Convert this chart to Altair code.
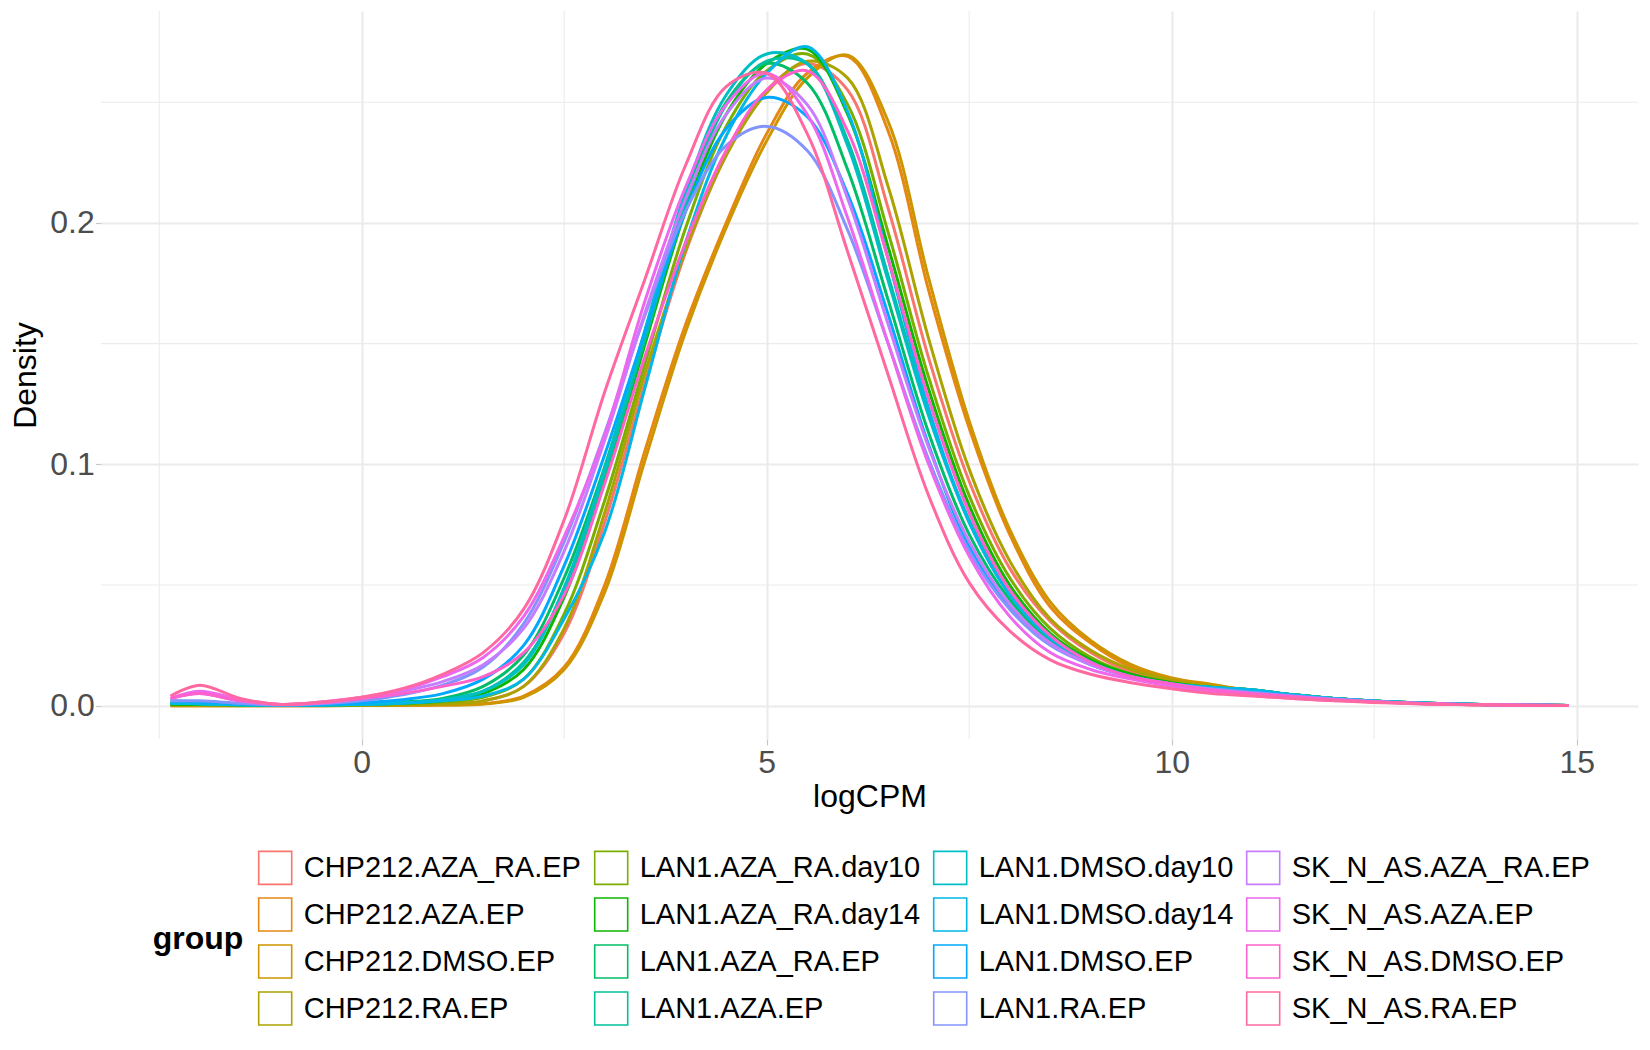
import altair as alt
import pandas as pd

FONT = "Liberation Sans"

# evaluation grid of the density curves (logCPM)
x_grid = [-2.36, -2.0, -1.5, -1.0, -0.5, 0.0, 0.5, 1.0, 1.5, 2.0, 2.5, 3.0, 3.5, 4.0, 4.5,
          5.0, 5.5, 6.0, 6.5, 7.0, 7.5, 8.0, 8.5, 9.0, 9.5, 10.0, 10.5, 11.0, 11.5, 12.0,
          13.0, 14.0, 14.9]

groups = ["CHP212.AZA_RA.EP", "CHP212.AZA.EP", "CHP212.DMSO.EP", "CHP212.RA.EP",
          "LAN1.AZA_RA.day10", "LAN1.AZA_RA.day14", "LAN1.AZA_RA.EP", "LAN1.AZA.EP",
          "LAN1.DMSO.day10", "LAN1.DMSO.day14", "LAN1.DMSO.EP", "LAN1.RA.EP",
          "SK_N_AS.AZA_RA.EP", "SK_N_AS.AZA.EP", "SK_N_AS.DMSO.EP", "SK_N_AS.RA.EP"]

colors = ["#F8766D", "#E68613", "#CD9600", "#ABA300",
          "#7CAE00", "#0CB702", "#00BE67", "#00C19A",
          "#00BFC4", "#00B8E7", "#00A9FF", "#8494FF",
          "#C77CFF", "#ED68ED", "#FF61CC", "#FF68A1"]

d_chp212_aza_ra_ep = [0.0002, 0.0002, 0.0001, 0.0001, 0.0001, 0.0002, 0.0004, 0.0008, 0.002, 0.008, 0.030, 0.076, 0.134, 0.188, 0.228, 0.255, 0.266, 0.255, 0.206, 0.144, 0.093, 0.057, 0.035, 0.022, 0.014, 0.010, 0.008, 0.0065, 0.0045, 0.003, 0.0012, 0.0004, 0.0001]
d_chp212_aza_ep = [0.0, 0.0, 0.0, 0.0, 0.0, 0.0001, 0.0002, 0.0003, 0.0008, 0.004, 0.016, 0.050, 0.106, 0.158, 0.200, 0.237, 0.262, 0.269, 0.238, 0.172, 0.115, 0.071, 0.041, 0.026, 0.016, 0.011, 0.0085, 0.006, 0.0045, 0.003, 0.001, 0.0003, 0.0001]
d_chp212_dmso_ep = [0.0, 0.0, 0.0, 0.0, 0.0, 0.0001, 0.0002, 0.0003, 0.0007, 0.0035, 0.015, 0.047, 0.102, 0.155, 0.198, 0.234, 0.260, 0.2695, 0.242, 0.177, 0.118, 0.073, 0.043, 0.027, 0.017, 0.0115, 0.0088, 0.0062, 0.0046, 0.003, 0.001, 0.0003, 0.0001]
d_chp212_ra_ep = [0.0002, 0.0002, 0.0001, 0.0001, 0.0001, 0.0002, 0.0004, 0.0008, 0.002, 0.008, 0.032, 0.080, 0.138, 0.189, 0.228, 0.254, 0.267, 0.260, 0.215, 0.152, 0.098, 0.060, 0.036, 0.023, 0.015, 0.0105, 0.008, 0.0065, 0.0045, 0.003, 0.0012, 0.0004, 0.0001]
d_lan1_aza_ra_day10 = [0.0005, 0.0005, 0.0003, 0.0002, 0.0003, 0.0004, 0.0008, 0.0015, 0.0035, 0.011, 0.038, 0.085, 0.142, 0.198, 0.240, 0.263, 0.270, 0.249, 0.196, 0.136, 0.087, 0.053, 0.032, 0.020, 0.013, 0.0095, 0.0075, 0.0065, 0.0045, 0.003, 0.0012, 0.0004, 0.0001]
d_lan1_aza_ra_day14 = [0.0005, 0.0005, 0.0003, 0.0002, 0.0003, 0.0005, 0.001, 0.002, 0.005, 0.015, 0.045, 0.093, 0.150, 0.205, 0.245, 0.266, 0.272, 0.245, 0.190, 0.131, 0.083, 0.050, 0.030, 0.019, 0.013, 0.0095, 0.0075, 0.0065, 0.0045, 0.003, 0.0012, 0.0004, 0.0001]
d_lan1_aza_ra_ep = [0.001, 0.001, 0.0005, 0.0002, 0.0003, 0.0008, 0.0015, 0.003, 0.008, 0.021, 0.053, 0.099, 0.155, 0.210, 0.250, 0.266, 0.258, 0.222, 0.168, 0.113, 0.071, 0.044, 0.027, 0.018, 0.012, 0.009, 0.0075, 0.006, 0.0043, 0.003, 0.0012, 0.0004, 0.0001]
d_lan1_aza_ep = [0.001, 0.0008, 0.0004, 0.0002, 0.0003, 0.0006, 0.0012, 0.0025, 0.006, 0.018, 0.048, 0.096, 0.152, 0.208, 0.249, 0.267, 0.266, 0.234, 0.178, 0.121, 0.077, 0.047, 0.029, 0.018, 0.012, 0.009, 0.0075, 0.0065, 0.0045, 0.003, 0.0012, 0.0004, 0.0001]
d_lan1_dmso_day10 = [0.001, 0.0008, 0.0004, 0.0002, 0.0003, 0.0006, 0.0012, 0.0025, 0.006, 0.017, 0.049, 0.098, 0.156, 0.213, 0.253, 0.270, 0.266, 0.232, 0.176, 0.120, 0.076, 0.046, 0.028, 0.018, 0.012, 0.009, 0.0075, 0.0065, 0.0045, 0.003, 0.0012, 0.0004, 0.0001]
d_lan1_dmso_day14 = [0.001, 0.0008, 0.0004, 0.0002, 0.0003, 0.0005, 0.001, 0.002, 0.004, 0.011, 0.036, 0.072, 0.132, 0.192, 0.236, 0.262, 0.273, 0.246, 0.185, 0.123, 0.076, 0.046, 0.028, 0.018, 0.012, 0.009, 0.0075, 0.0065, 0.0045, 0.003, 0.0012, 0.0004, 0.0001]
d_lan1_dmso_ep = [0.002, 0.0015, 0.0008, 0.0003, 0.0005, 0.0012, 0.0025, 0.005, 0.011, 0.025, 0.058, 0.104, 0.155, 0.205, 0.239, 0.252, 0.244, 0.212, 0.162, 0.108, 0.066, 0.041, 0.026, 0.017, 0.012, 0.009, 0.007, 0.0055, 0.004, 0.0028, 0.0011, 0.0004, 0.0001]
d_lan1_ra_ep = [0.002, 0.002, 0.001, 0.0003, 0.0008, 0.002, 0.0045, 0.0085, 0.016, 0.034, 0.068, 0.113, 0.162, 0.205, 0.232, 0.240, 0.230, 0.197, 0.150, 0.102, 0.064, 0.040, 0.025, 0.017, 0.012, 0.009, 0.007, 0.0055, 0.004, 0.0028, 0.0011, 0.0004, 0.0001]
d_sk_n_as_aza_ra_ep = [0.003, 0.005, 0.002, 0.0005, 0.0012, 0.003, 0.006, 0.010, 0.017, 0.032, 0.064, 0.110, 0.163, 0.210, 0.245, 0.260, 0.249, 0.210, 0.158, 0.107, 0.068, 0.042, 0.026, 0.017, 0.012, 0.009, 0.0065, 0.005, 0.0038, 0.0025, 0.001, 0.0003, 0.0001]
d_sk_n_as_aza_ep = [0.003, 0.006, 0.0025, 0.0005, 0.0015, 0.0035, 0.0065, 0.012, 0.020, 0.037, 0.070, 0.112, 0.168, 0.215, 0.249, 0.262, 0.245, 0.202, 0.150, 0.100, 0.062, 0.037, 0.022, 0.015, 0.011, 0.008, 0.0055, 0.0042, 0.003, 0.0022, 0.0009, 0.0003, 0.0001]
d_sk_n_as_dmso_ep = [0.003, 0.005, 0.002, 0.0005, 0.0012, 0.003, 0.005, 0.008, 0.012, 0.022, 0.046, 0.092, 0.145, 0.192, 0.230, 0.255, 0.263, 0.238, 0.185, 0.127, 0.080, 0.048, 0.029, 0.018, 0.012, 0.009, 0.0065, 0.005, 0.0037, 0.0025, 0.001, 0.0003, 0.0001]
d_sk_n_as_ra_ep = [0.004, 0.0085, 0.003, 0.0005, 0.0015, 0.0035, 0.007, 0.013, 0.022, 0.040, 0.077, 0.130, 0.177, 0.224, 0.2565, 0.262, 0.237, 0.188, 0.137, 0.087, 0.051, 0.031, 0.019, 0.013, 0.0095, 0.007, 0.005, 0.004, 0.003, 0.002, 0.0008, 0.0003, 0.0001]

series = [d_chp212_aza_ra_ep, d_chp212_aza_ep, d_chp212_dmso_ep, d_chp212_ra_ep,
          d_lan1_aza_ra_day10, d_lan1_aza_ra_day14, d_lan1_aza_ra_ep, d_lan1_aza_ep,
          d_lan1_dmso_day10, d_lan1_dmso_day14, d_lan1_dmso_ep, d_lan1_ra_ep,
          d_sk_n_as_aza_ra_ep, d_sk_n_as_aza_ep, d_sk_n_as_dmso_ep, d_sk_n_as_ra_ep]

x_major = [0, 5, 10, 15]
x_minor = [-2.5, 2.5, 7.5, 12.5]
y_major = [0.0, 0.1, 0.2]
y_minor = [0.05, 0.15, 0.25]

rows = []
for g, vals in zip(groups, series):
    for xv, dv in zip(x_grid, vals):
        rows.append({"group": g, "logCPM": xv, "Density": dv})
df = pd.DataFrame(rows)

x_scale = alt.Scale(domain=[-3.2185, 15.757], nice=False, zero=False)
y_scale = alt.Scale(domain=[-0.0138, 0.2878], nice=False, zero=False)

x_axis = alt.Axis(values=x_major, title="logCPM", grid=True, gridColor="#EBEBEB", gridWidth=2.1,
                  domain=False, ticks=True, tickColor="#C8C8C8", tickSize=6, tickWidth=1.2,
                  labelFont=FONT, labelFontSize=32, labelColor="#4D4D4D", labelPadding=2,
                  labelFlush=False, labelOverlap=False,
                  titleFont=FONT, titleFontSize=32, titleFontWeight="normal", titleColor="black",
                  titleX=768.5, titleY=67.7, titleBaseline="alphabetic", titleAlign="center")
y_axis = alt.Axis(values=y_major, format=".1f", title="Density", grid=True, gridColor="#EBEBEB",
                  gridWidth=2.1, domain=False, ticks=True, tickColor="#C8C8C8", tickSize=5.5,
                  tickWidth=1.2, labelFont=FONT, labelFontSize=32, labelColor="#4D4D4D",
                  labelPadding=1.2, labelFlush=False, labelOverlap=False,
                  titleFont=FONT, titleFontSize=32, titleFontWeight="normal", titleColor="black",
                  titleAngle=270, titleX=-66, titleY=364, titleBaseline="alphabetic",
                  titleAlign="center")

vgrid = alt.Chart(pd.DataFrame({"logCPM": x_minor})).mark_rule(
    color="#EBEBEB", strokeWidth=1.05).encode(x=alt.X("logCPM:Q", scale=x_scale, axis=x_axis))
hgrid = alt.Chart(pd.DataFrame({"Density": y_minor})).mark_rule(
    color="#EBEBEB", strokeWidth=1.05).encode(y=alt.Y("Density:Q", scale=y_scale, axis=y_axis))

lines = alt.Chart(df).mark_line(strokeWidth=3, interpolate="catmull-rom").encode(
    x=alt.X("logCPM:Q", scale=x_scale, axis=x_axis),
    y=alt.Y("Density:Q", scale=y_scale, axis=y_axis),
    color=alt.Color("group:N", scale=alt.Scale(domain=groups, range=colors),
                    legend=alt.Legend(title="group", orient="none", legendX=51.7, legendY=839,
                                      columns=4, titleOrient="left", titleAnchor="middle",
                                      titleBaseline="middle", titleFont=FONT, titleFontSize=32,
                                      titleFontWeight="bold", titleColor="black", titlePadding=14,
                                      labelFont=FONT, labelFontSize=29, labelColor="black",
                                      labelLimit=0, labelOffset=11, symbolType="square",
                                      symbolSize=1089, symbolStrokeWidth=1.6,
                                      rowPadding=6, columnPadding=9, padding=0)),
    detail="group:N",
)

chart = alt.layer(vgrid, hgrid, lines).properties(
    width=1537, height=728,
    autosize=alt.AutoSizeParams(type="none"),
    padding={"left": 93, "top": 3, "right": 4, "bottom": 300},
).configure(font=FONT, background="white").configure_view(stroke=None)

chart.save("out.html", embed_options={"renderer": "svg", "actions": False})
